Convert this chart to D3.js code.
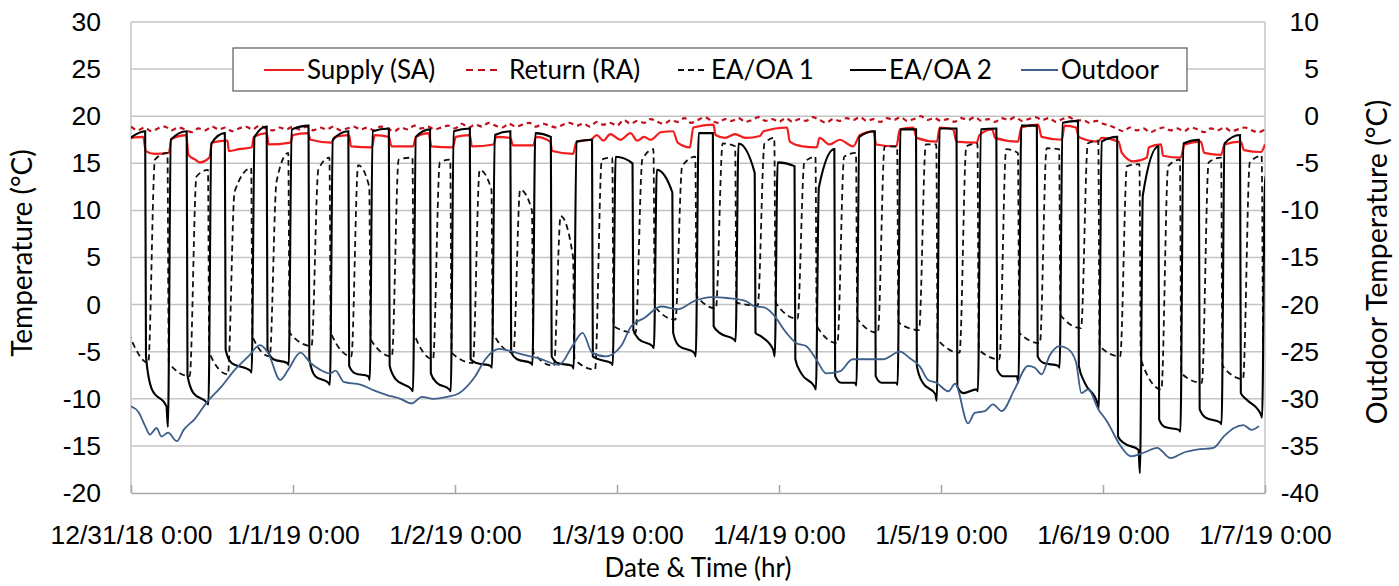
<!DOCTYPE html>
<html>
<head>
<meta charset="utf-8">
<script src="https://cdn.jsdelivr.net/npm/d3@7"></script>
<style>
  body { margin: 0; background: #fff; }
  svg { display: block; font-family: "Lato", "Noto Sans", sans-serif; }
  .tick text { fill: #000; }
</style>
</head>
<body>
<svg id="chart" width="1399" height="586"></svg>
<script>
// x axis: hours since 12/31/18 0:00
var xTickHours = [0, 24, 48, 72, 96, 120, 144, 168];
var xTickLabels = ["12/31/18 0:00", "1/1/19 0:00", "1/2/19 0:00", "1/3/19 0:00",
                   "1/4/19 0:00", "1/5/19 0:00", "1/6/19 0:00", "1/7/19 0:00"];
var leftTicks = [-20, -15, -10, -5, 0, 5, 10, 15, 20, 25, 30];
var rightTicks = [-40, -35, -30, -25, -20, -15, -10, -5, 0, 5, 10];

var seriesNames = ["Supply (SA)", "Return (RA)", "EA/OA 1", "EA/OA 2", "Outdoor"];

// switching cycles of the exhaust/outdoor air sides (hours)
var cycleRise = [-0.5, 5.5, 11.5, 17.9, 23.4, 29.5, 35.4, 41.8, 47.4, 53.5, 59.5, 65.6, 71.4, 77.5,
                 83.7, 89.6, 95.4, 101.5, 107.5, 113.6, 119.4, 125.5, 131.5, 137.6, 143.4, 149.5,
                 155.5, 161.6, 167.6];
var cycleDrop = [2.1, 8.25, 13.9, 20.1, 26.3, 32.2, 38.2, 44.3, 50.2, 56.2, 62.2, 68.3, 74.3, 80.2,
                 86.2, 92.4, 98.3, 104.2, 110.2, 116.3, 122.3, 128.2, 134.2, 140.3, 146.1, 152.2,
                 158.2, 164.3, 170];

// EA/OA 2 (solid black)
var oa2HighStart = [17.7, 17.5, 17.1, 17.8, 18.6, 17.5, 18.4, 17.8, 18.4, 18.0, 18.2, 17.3, 15.7, 14.3,
                    18.2, 17.1, 15.1, 12.4, 17.8, 18.6, 18.7, 18.6, 19.0, 19.3, 17.3, 11.6, 17.1, 17.1, 13.6];
var oa2HighEnd = [18.4, 18.4, 18.2, 18.9, 19.0, 18.4, 18.7, 18.6, 18.7, 18.4, 17.8, 17.5, 15.0, 11.9,
                  18.2, 14.0, 14.7, 16.5, 18.4, 18.6, 18.7, 18.7, 19.0, 19.5, 17.8, 16.8, 17.5, 18.0, 13.6];
var oa2LowStart = [-5.5, -7.5, -4.8, -4.8, -5.8, -6.5, -6.5, -7.3, -5.8, -5.1, -5.5, -5.5, -2.7, -3.0,
                   -2.3, -3.0, -5.8, -7.6, -7.6, -6.5, -8.7, -6.9, -5.5, -6.5, -14.0, -12.2, -11.1, -9.4];
var oa2LowMid = [-9.0, -9.4, -6.2, -5.8, -7.6, -7.3, -7.9, -8.3, -6.2, -5.8, -6.2, -5.8, -3.7, -4.4,
                 -3.0, -3.4, -7.3, -8.3, -8.3, -8.3, -9.4, -7.6, -6.2, -8.3, -14.7, -13.0, -12.0, -10.1];
var oa2LowEnd = [-10.8, -10.4, -7.0, -6.2, -8.3, -7.6, -9.0, -9.0, -6.5, -6.2, -6.5, -6.2, -4.4, -5.1,
                 -3.7, -4.8, -8.7, -8.3, -8.3, -9.5, -9.0, -7.6, -6.5, -10.4, -15.4, -13.3, -12.5, -11.6];
var oa2Dip = [-13.0, -10.6, -7.2, -6.4, -8.5, -8.0, -9.2, -9.2, -6.7, -6.4, -6.8, -6.4, -4.6, -5.5,
              -3.9, -5.5, -9.0, -8.6, -8.5, -10.2, -9.2, -8.3, -6.7, -11.1, -17.9, -13.5, -12.7, -12.0];

// EA/OA 1 (dashed black)
var oa1LowStart = [-3.0, -6.2, -5.1, -3.4, -3.0, -3.0, -3.7, -3.0, -5.1, -3.0, -5.1, -5.8, -2.3, -0.2,
                   0.9, 0.2, 0.2, -2.3, -1.5, -1.9, -3.7, -4.8, -3.0, -1.1, -4.4, -5.8, -7.3, -6.5, -4.0];
var oa1LowEnd = [-6.2, -7.6, -7.4, -5.5, -4.4, -5.5, -5.5, -5.8, -6.2, -5.1, -6.5, -6.9, -3.0, -1.6,
                 -0.4, -0.1, -1.5, -4.1, -3.0, -2.7, -5.1, -5.8, -4.1, -2.5, -5.5, -9.0, -8.3, -7.9];
var oa1High = [15.4, 13.6, 12.0, 13.0, 14.3, 14.8, 15.4, 15.1, 14.3, 12.2, 9.4, 15.4, 15.4, 14.7,
               17.1, 17.1, 15.1, 15.7, 16.8, 17.0, 16.8, 16.5, 16.6, 17.1, 14.7, 14.7, 15.1, 15.1];
var oa1HighEnd = [16.1, 14.3, 14.5, 16.1, 15.6, 12.5, 15.6, 15.4, 12.2, 10.0, 5.0, 15.6, 16.5, 15.7,
                  16.8, 17.7, 15.7, 16.1, 16.8, 17.0, 17.1, 16.1, 16.5, 17.4, 14.9, 15.4, 15.6, 15.8];

// Supply (SA): [hour, °C]
var supply = [[0,17.7],[1.8,17.8],[2.2,16.3],[3.5,16.0],[5.6,16.1],[6.0,17.6],[8.2,18.0],[8.5,15.9],
  [9.5,15.4],[10.2,15.1],[11.6,15.6],[12.0,17.2],[14.3,17.4],[14.5,16.3],[16,16.5],[17.9,16.7],
  [18.2,17.8],[20.1,18.2],[20.4,17.0],[23.6,17.2],[24.0,18.0],[26.2,18.2],[26.6,17.5],[29.7,17.2],
  [30.2,17.8],[32.3,18.0],[32.6,16.8],[35.7,16.7],[36.1,18.0],[38.2,17.8],[38.6,16.8],[41.8,16.8],
  [42.2,17.8],[44.1,18.2],[44.5,16.8],[47.7,16.7],[48.1,17.8],[50.2,18.0],[50.5,16.8],[53.7,17.0],
  [54.1,17.8],[56.2,17.7],[56.6,16.9],[59.6,16.9],[60.0,17.8],[62.1,17.3],[62.4,16.3],[65.5,16.0],
  [66.0,17.3],[68.1,17.5],[69,18.0],[70,17.4],[71,18.1],[72.5,17.5],[74,18.2],[75,17.4],[76,17.8],
  [77,17.5],[78.5,18.3],[80.3,18.4],[81,17.2],[82.8,16.7],[83.3,18.8],[86.3,19.1],[86.6,18.0],
  [88,17.7],[89.5,18.1],[91,17.7],[93.2,17.9],[93.7,18.4],[97.2,18.8],[97.6,17.3],[99.5,16.8],
  [101.6,16.7],[102,17.7],[103.5,17.0],[105,17.5],[107,16.8],[108,18.0],[110,18.4],[110.4,17.0],
  [113.4,16.8],[113.9,18.6],[115.9,18.8],[116.4,17.7],[119.4,17.3],[119.8,18.8],[121.8,18.6],
  [122.3,17.3],[125.3,17.2],[125.7,18.0],[127.6,18.6],[128.0,17.7],[131.4,17.3],[131.9,18.8],
  [134.4,19.1],[134.9,17.8],[137.9,17.5],[138.3,19.0],[140.0,18.8],[140.4,17.8],[143.3,17.3],
  [143.8,17.7],[146.3,17.3],[146.8,16.1],[148.5,15.2],[150.5,15.6],[150.8,16.7],[152.6,17.0],
  [152.9,15.8],[155.5,15.6],[156.1,17.0],[158.5,17.3],[159.0,16.1],[161.5,15.9],[162,17.0],
  [164.4,17.3],[164.9,16.4],[167.4,16.2],[168,17.0]];

// Return (RA), hourly from hour 0 to 168
var returnTemp = [
  18.9,18.5,18.8,18.4,18.7,18.9,18.5,18.8,18.6,18.3,18.7,18.5,18.9,18.6,18.8,18.4,18.7,18.9,18.6,19.0,18.7,18.5,18.8,18.6,18.9,
  18.6,18.9,18.5,18.8,18.6,18.9,18.5,18.7,18.9,18.6,18.8,18.5,18.9,18.7,18.4,18.8,18.6,19.0,18.7,18.9,18.6,18.8,19.0,18.7,
  19.2,18.8,19.1,18.9,19.3,19.0,18.8,19.2,18.9,19.1,19.3,18.9,19.2,19.0,18.8,19.1,19.3,19.0,19.2,18.9,19.4,19.1,19.3,19.0,
  19.6,19.2,19.5,19.3,19.7,19.4,19.2,19.6,19.4,19.8,19.3,19.6,19.9,19.5,19.3,19.7,19.5,19.8,19.4,19.6,19.9,19.5,19.7,19.4,
  19.8,19.4,19.7,19.5,19.9,19.6,19.3,19.7,19.5,19.8,19.6,19.9,19.5,19.7,19.4,19.8,19.6,19.9,19.5,19.7,20.0,19.6,19.8,19.5,
  19.7,19.4,19.8,19.6,19.9,19.5,19.7,19.4,19.8,19.6,19.9,19.5,19.7,19.9,19.6,19.8,19.4,19.7,19.9,19.5,19.6,19.3,19.5,19.2,
  19.0,18.7,18.4,18.8,18.5,18.7,18.3,18.6,18.8,18.5,18.7,18.4,18.8,18.6,18.3,18.7,18.5,18.8,18.4,18.6,18.8,18.5,18.3,18.6];

// Outdoor (right axis)
var outdoorHours = [0, 1.1, 2.1, 2.8, 3.8, 4.5, 5.5, 6.8, 7.8, 9.5, 11.2, 13.4, 15.4, 17.4, 19.1, 20.3,
  22.1, 23.3, 25.1, 26.6, 28, 29.5, 30.3, 31.5, 34, 36, 37.9, 39.9, 41.6, 43.1, 44.8, 46.8, 48.6, 51,
  52.5, 54.5, 56.5, 58.5, 60.4, 63.4, 65.4, 66.9, 68.3, 70.3, 72.6, 74.1, 76.1, 78.5, 81, 83.5, 86,
  88.4, 91, 92.4, 93.8, 95.1, 97.1, 98.6, 100, 101.5, 103, 105, 106.9, 109.4, 111.4, 113.9, 115.4,
  116.8, 118.1, 119.3, 121.1, 122.1, 124, 125, 126.5, 127.7, 129, 130.9, 132.9, 133.9, 134.9, 136.1,
  137.6, 138.8, 140, 140.8, 141.8, 143.3, 144.6, 146.6, 148.1, 150.1, 152, 154, 156, 157.9, 160.4,
  161.9, 163.4, 164.8, 166, 167.1];
var outdoorTemp = [-30.8, -31.4, -32.9, -33.8, -33.1, -34.0, -33.6, -34.5, -33.3, -32.1, -30.4, -28.7,
  -26.9, -25.5, -24.3, -25.1, -28.0, -26.9, -25.1, -26.2, -26.9, -27.3, -27.0, -28.2, -28.5, -29.1,
  -29.6, -30.0, -30.5, -29.8, -30.0, -29.8, -29.4, -27.6, -25.8, -24.7, -25.0, -25.4, -25.7, -26.4,
  -24.4, -23.0, -25.1, -25.5, -24.4, -22.3, -21.4, -20.2, -20.5, -19.6, -19.2, -19.3, -19.6, -20.2,
  -20.3, -21.0, -23.0, -24.1, -24.4, -25.8, -27.3, -27.1, -25.8, -25.8, -25.8, -25.0, -25.7, -26.5,
  -28.0, -28.3, -29.2, -28.4, -32.6, -31.5, -31.3, -30.6, -31.3, -29.0, -26.5, -26.7, -27.4, -25.4,
  -24.4, -24.7, -26.1, -29.4, -29.0, -31.1, -32.4, -35.0, -36.1, -35.7, -35.2, -36.3, -35.7, -35.4,
  -35.2, -34.0, -33.1, -32.8, -33.3, -32.9];

// ---- build the two EA/OA traces from the cycle readings ----
var oa2 = [], oa1 = [];
cycleRise.forEach(function(R, k) {
  var D = cycleDrop[k];
  oa2.push([R + 0.4, oa2HighStart[k]]);
  oa2.push([D, oa2HighEnd[k]]);
  if (k < oa2LowStart.length) {
    var Rn = cycleRise[k + 1];
    oa2.push([D + 0.12, oa2LowStart[k]]);
    oa2.push([D + 1.0, oa2LowMid[k]]);
    oa2.push([Rn - 0.25, oa2LowEnd[k]]);
    oa2.push([Rn - 0.03, oa2Dip[k]]);
  }
  if (k > 0) oa1.push([R - 0.1, oa1HighEnd[k - 1]]);
  oa1.push([R + 0.1, oa1LowStart[k]]);
  if (k < oa1LowEnd.length) {
    oa1.push([D + 0.45, oa1LowEnd[k]]);
    oa1.push([D + 1.45, oa1High[k]]);
  }
});
var ret = returnTemp.map(function(v, i) { return [i, v]; });
var outdoor = outdoorHours.map(function(h, i) { return [h, outdoorTemp[i]]; });

// ---- layout ----
var svg = d3.select("#chart");
var plotL = 131, plotR = 1265, plotT = 22, plotB = 493;

var x = d3.scaleLinear().domain([0, 168]).range([plotL, plotR]);
var yL = d3.scaleLinear().domain([-20, 30]).range([plotB, plotT]);
var yR = d3.scaleLinear().domain([-40, 10]).range([plotB, plotT]);

svg.append("defs").append("clipPath").attr("id", "plot")
  .append("rect").attr("x", plotL).attr("y", plotT).attr("width", plotR - plotL).attr("height", plotB - plotT);

// gridlines
svg.append("g").selectAll("line")
  .data(leftTicks.slice(1))
  .enter().append("line")
    .attr("x1", plotL).attr("x2", plotR)
    .attr("y1", function(d) { return yL(d); })
    .attr("y2", function(d) { return yL(d); })
    .attr("stroke", "#c4c4c4").attr("stroke-width", 1.5);
svg.append("line").attr("x1", plotL).attr("x2", plotL).attr("y1", plotT).attr("y2", plotB)
  .attr("stroke", "#c4c4c4").attr("stroke-width", 1.5);
svg.append("line").attr("x1", plotR).attr("x2", plotR).attr("y1", plotT).attr("y2", plotB)
  .attr("stroke", "#c4c4c4").attr("stroke-width", 1.5);

// axes
var gx = svg.append("g")
  .attr("transform", "translate(0," + plotB + ")")
  .call(d3.axisBottom(x).tickValues(xTickHours)
    .tickFormat(function(d, i) { return xTickLabels[i]; })
    .tickSizeInner(-8).tickSizeOuter(0));
gx.select(".domain").attr("stroke", "#a6a6a6").attr("stroke-width", 1.5);
gx.selectAll(".tick line").attr("stroke", "#a6a6a6").attr("stroke-width", 1.5);
gx.selectAll("text").attr("y", 51).attr("dy", null).style("font-size", "26.5px");

var gl = svg.append("g")
  .attr("transform", "translate(" + plotL + ",0)")
  .call(d3.axisLeft(yL).tickValues(leftTicks).tickFormat(String).tickSize(0).tickPadding(30));
gl.select(".domain").remove();
gl.selectAll("text").style("font-size", "26.5px");

var gr = svg.append("g")
  .attr("transform", "translate(" + plotR + ",0)")
  .call(d3.axisRight(yR).tickValues(rightTicks).tickFormat(String).tickSize(0));
gr.select(".domain").remove();
gr.selectAll("text").attr("x", 54).attr("text-anchor", "end").style("font-size", "26.5px");

// axis titles
svg.append("text").attr("transform", "translate(32,253) rotate(-90)")
  .attr("text-anchor", "middle").style("font-size", "28px").text("Temperature  (°C)");
svg.append("text").attr("transform", "translate(1387,262) rotate(-90)")
  .attr("text-anchor", "middle").style("font-size", "28.5px").text("Outdoor Temperature (°C)");
svg.append("text").attr("x", 698).attr("y", 577)
  .attr("text-anchor", "middle").style("font-size", "26px").text("Date & Time (hr)");

// series
var lineL = d3.line().x(function(d) { return x(d[0]); }).y(function(d) { return yL(d[1]); })
  .curve(d3.curveMonotoneX);
var lineR = d3.line().x(function(d) { return x(d[0]); }).y(function(d) { return yR(d[1]); })
  .curve(d3.curveMonotoneX);

var plot = svg.append("g").attr("clip-path", "url(#plot)");
plot.append("path").datum(supply).attr("d", lineL)
  .attr("fill", "none").attr("stroke", "#f21c1c").attr("stroke-width", 2.2);
plot.append("path").datum(ret).attr("d", lineL)
  .attr("fill", "none").attr("stroke", "#c0101c").attr("stroke-width", 2.2)
  .attr("stroke-dasharray", "5,4");
plot.append("path").datum(oa1).attr("d", lineL)
  .attr("fill", "none").attr("stroke", "#111").attr("stroke-width", 1.8)
  .attr("stroke-dasharray", "6,4");
plot.append("path").datum(oa2).attr("d", lineL)
  .attr("fill", "none").attr("stroke", "#000").attr("stroke-width", 2.1);
plot.append("path").datum(outdoor).attr("d", lineR)
  .attr("fill", "none").attr("stroke", "#3d5f8a").attr("stroke-width", 1.8);

// legend
var legendStyles = [
  { color: "#f21c1c", dash: null, x: 264, w: 40, tx: 307 },
  { color: "#c0101c", dash: "7,5", x: 466, w: 34, tx: 509 },
  { color: "#111", dash: "6,4", x: 678, w: 27, tx: 711 },
  { color: "#000", dash: null, x: 850, w: 36, tx: 889 },
  { color: "#3d5f8a", dash: null, x: 1021, w: 37, tx: 1061 }
];
var lg = svg.append("g");
lg.append("rect").attr("x", 233).attr("y", 48).attr("width", 954).attr("height", 43)
  .attr("fill", "#fff").attr("stroke", "#5a5a5a").attr("stroke-width", 1.2);
seriesNames.forEach(function(name, i) {
  var s = legendStyles[i];
  lg.append("line").attr("x1", s.x).attr("x2", s.x + s.w).attr("y1", 70).attr("y2", 70)
    .attr("stroke", s.color).attr("stroke-width", 2).attr("stroke-dasharray", s.dash);
  lg.append("text").attr("x", s.tx).attr("y", 70).attr("dy", "0.35em")
    .style("font-size", "26px").text(name);
});
</script>
</body>
</html>
